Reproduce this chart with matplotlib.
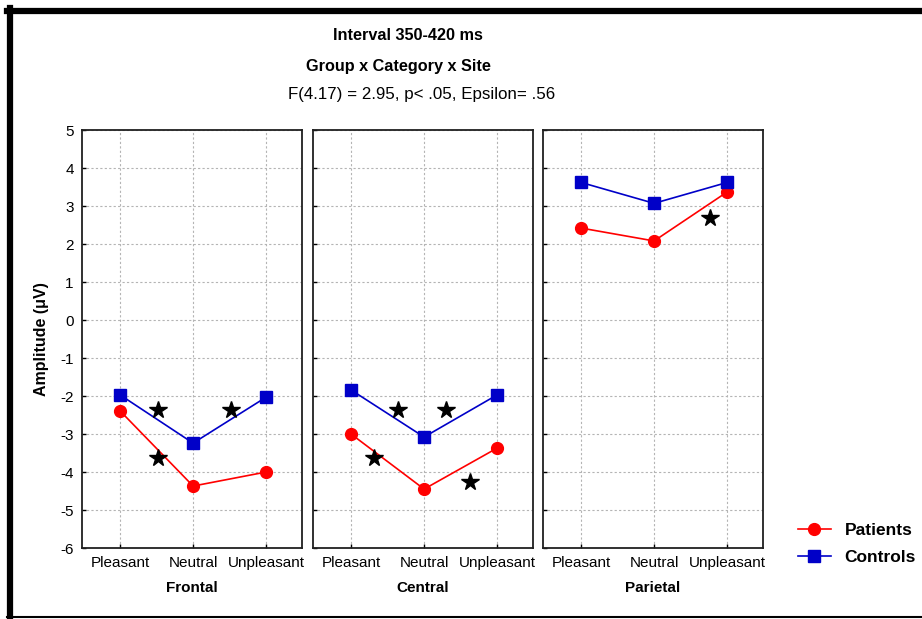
import matplotlib
matplotlib.use('Agg')
import matplotlib.pyplot as plt
from matplotlib.lines import Line2D

plt.rcParams['font.family'] = ['Liberation Sans', 'DejaVu Sans']

categories = ['Pleasant', 'Neutral', 'Unpleasant']
sites = ['Frontal', 'Central', 'Parietal']

patients = {
    'Frontal': [-2.39, -4.37, -4.0],
    'Central': [-3.0, -4.45, -3.37],
    'Parietal': [2.42, 2.08, 3.37],
}
controls = {
    'Frontal': [-1.97, -3.24, -2.03],
    'Central': [-1.84, -3.08, -1.97],
    'Parietal': [3.62, 3.07, 3.62],
}
# significance stars (category position, amplitude)
stars_x = {
    'Frontal': [0.52, 0.52, 1.52],
    'Central': [0.32, 0.64, 1.30, 1.63],
    'Parietal': [1.77],
}
stars_y = {
    'Frontal': [-2.37, -3.63, -2.37],
    'Central': [-3.63, -2.37, -2.37, -4.26],
    'Parietal': [2.68],
}
yticks = [5, 4, 3, 2, 1, 0, -1, -2, -3, -4, -5, -6]

W, H = 922, 619
fig = plt.figure(figsize=(W / 100, H / 100), dpi=100)

lefts = [82, 313, 543]
pw = 220
top, bottom = 130, 548
xs = [0, 1, 2]

for i, site in enumerate(sites):
    ax = fig.add_axes([lefts[i] / W, 1 - bottom / H, pw / W, (bottom - top) / H])
    ax.plot(xs, patients[site], color='#ff0000', marker='o', markersize=8.5, lw=1.2, zorder=3)
    ax.plot(xs, controls[site], color='#0000c8', marker='s', markersize=8, lw=1.2, zorder=3)
    ax.plot(stars_x[site], stars_y[site], ls='none', marker='*', color='black', markersize=13, zorder=4)
    ax.set_xlim(-0.52, 2.49)
    ax.set_ylim(-6, 5)
    ax.set_xticks(xs)
    ax.set_xticklabels(categories, fontsize=11)
    ax.set_yticks(yticks)
    if i == 0:
        ax.set_yticklabels([str(v) for v in yticks], fontsize=11)
        ax.set_ylabel('Amplitude (\u03bcV)', fontsize=11.5, fontweight='bold', labelpad=8)
    else:
        ax.set_yticklabels([])
    ax.tick_params(direction='in', length=3, width=1, pad=6)
    ax.grid(True, color='#b4b4b4', linestyle=(0, (2, 2)), linewidth=0.8)
    for s in ax.spines.values():
        s.set_linewidth(1.3)
        s.set_color('#202020')
    ax.set_xlabel(site, fontsize=11, fontweight='bold', labelpad=8)

fig.text(408 / W, 1 - 36 / H, 'Interval 350-420 ms', ha='center', va='center', fontsize=11.7, fontweight='bold')
fig.text(398 / W, 1 - 66 / H, 'Group x Category x Site', ha='center', va='center', fontsize=11.7, fontweight='bold')
fig.text(422 / W, 1 - 95 / H, 'F(4.17) = 2.95, p< .05, Epsilon= .56', ha='center', va='center', fontsize=12.2)

# legend
handles = [Line2D([], [], color='#ff0000', marker='o', markersize=8.5, lw=1.2),
           Line2D([], [], color='#0000c8', marker='s', markersize=8, lw=1.2)]
fig.legend(handles, ['Patients', 'Controls'], loc='center left',
           bbox_to_anchor=(782 / W, 1 - 544 / H), frameon=False,
           prop={'size': 12.5, 'weight': 'bold'}, handlelength=1.9,
           handletextpad=0.8, labelspacing=0.7)

# outer frame
fig.add_artist(Line2D([10 / W, 10 / W], [1 - 8 / H, 1 - 618 / H], color='black', lw=4.5, transform=fig.transFigure))
fig.add_artist(Line2D([7 / W, 1], [1 - 11 / H, 1 - 11 / H], color='black', lw=4.5, transform=fig.transFigure))
fig.add_artist(Line2D([7 / W, 1], [1 - 617 / H, 1 - 617 / H], color='black', lw=1.5, transform=fig.transFigure))

fig.savefig('out.png', dpi=100)
